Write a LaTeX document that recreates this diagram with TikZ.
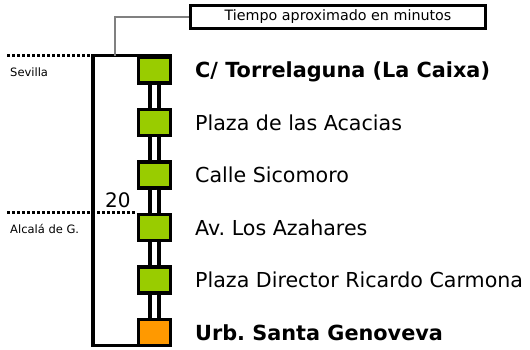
\documentclass[tikz,border=0pt]{standalone}
\usepackage{fontspec}
\setmainfont{DejaVu Sans}
\frenchspacing
\begin{document}
\begin{tikzpicture}[x=1pt,y=-1pt,
  stopbox/.style={draw, line width=3.2pt, fill=stopgreen, minimum width=32pt, minimum height=26pt, inner sep=0pt},
  endbox/.style={stopbox, fill=stoporange},
  conn/.style={line width=3.2pt, double=white, double distance=5.8pt},
  framel/.style={line width=3.2pt, line join=miter},
  dotl/.style={line width=3pt, dash pattern=on 3pt off 2pt},
  stoplabel/.style={anchor=base west, inner sep=0pt, font=\fontsize{20.6}{24}\selectfont},
  boldlabel/.style={anchor=base west, inner sep=0pt, font=\fontsize{20.8}{24}\selectfont\bfseries},
  smalllabel/.style={anchor=base west, inner sep=0pt, font=\fontsize{11.5}{14}\selectfont},
  grayl/.style={line width=1.3pt, draw=black!50}
]
\definecolor{stopgreen}{RGB}{153,204,0}
\definecolor{stoporange}{RGB}{255,153,0}
\useasboundingbox (0,0) rectangle (530,349);

% stops
\node[stopbox] (s1) at (154.5,70) {};
\node[stopbox] (s2) at (154.5,122.5) {};
\node[stopbox] (s3) at (154.5,175) {};
\node[stopbox] (s4) at (154.5,227.5) {};
\node[stopbox] (s5) at (154.5,280) {};
\node[endbox]  (s6) at (154.5,332.5) {};

% connectors
\draw[conn] (s1.south) -- (s2.north);
\draw[conn] (s2.south) -- (s3.north);
\draw[conn] (s3.south) -- (s4.north);
\draw[conn] (s4.south) -- (s5.north);
\draw[conn] (s5.south) -- (s6.north);

% frame
\coordinate (fl) at (93,200);
\draw[framel] (s1.north east) -| (fl) |- ([yshift=1.5pt]s6.south west);

% dotted lines
\coordinate (dl) at (7,0);
\draw[dotl] (dl |- s1.north) -- (fl |- s1.north);
\draw[dotl] (dl |- s4.north west) -- (s4.north west);

% labels
\node[smalllabel] (sev) at (10,76) {Sevilla};
\node[smalllabel] (alc) at (10,233) {Alcalá de G.};
\node[anchor=base west, inner sep=0pt, font=\fontsize{20}{24}\selectfont] (t20) at (105,207) {20};

\node[boldlabel] (l1) at (195,77.5) {C/ Torrelaguna (La Caixa)};
\node[stoplabel] (l2) at (195,130) {Plaza de las Acacias};
\node[stoplabel] (l3) at (195,182.5) {Calle Sicomoro};
\node[stoplabel] (l4) at (195,235) {Av. Los Azahares};
\node[stoplabel] (l5) at (195,287.5) {Plaza Director Ricardo Carmona};
\node[boldlabel] (l6) at (195,340) {Urb. Santa Genoveva};

% title box
\node[draw, line width=3pt, minimum width=295pt, minimum height=23pt, inner sep=0pt, font=\fontsize{14.3}{16}\selectfont] (tbox) at (338,17) {Tiempo aproximado en minutos};
\coordinate (gtop) at (115,55.5);
\draw[grayl] (tbox.west) -| (gtop);
\end{tikzpicture}
\end{document}
